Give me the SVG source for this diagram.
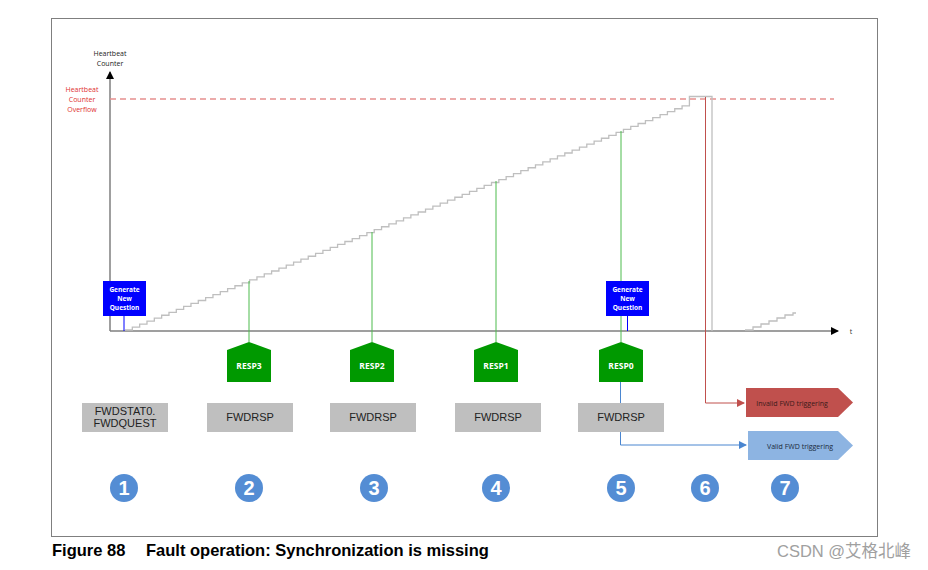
<svg xmlns="http://www.w3.org/2000/svg" width="928" height="570" viewBox="0 0 928 570">
<style>
.sm{font-family:"Open Sans","Liberation Sans",sans-serif;font-size:7px;text-anchor:middle}
.gq{font-family:"Open Sans","Liberation Sans",sans-serif;font-size:6.5px;font-weight:bold;fill:#fff;text-anchor:middle}
.rsp{font-family:"Open Sans","Liberation Sans",sans-serif;font-size:8.5px;font-weight:bold;fill:#fff;text-anchor:middle}
.box{fill:#bfbfbf}
.bt{font-family:"Liberation Sans",Arial,sans-serif;font-size:11px;fill:#222;text-anchor:middle}
.num{fill:#548dd4}
.nt{font-family:"Liberation Sans",Arial,sans-serif;font-size:20px;font-weight:bold;fill:#fff;text-anchor:middle}
.gl{stroke:#4cbb4c;stroke-width:1;fill:none}
.pent{fill:#009900}
.gen{fill:#0000ff}
</style>
<defs>
<marker id="ak" markerWidth="8" markerHeight="8" refX="7" refY="4" orient="auto" markerUnits="userSpaceOnUse"><path d="M0,0 L8,4 L0,8 z" fill="#000"/></marker>
<marker id="ar" markerWidth="8" markerHeight="8" refX="7" refY="4" orient="auto" markerUnits="userSpaceOnUse"><path d="M0,0 L8,4 L0,8 z" fill="#c0504d"/></marker>
<marker id="ab" markerWidth="8" markerHeight="8" refX="7" refY="4" orient="auto" markerUnits="userSpaceOnUse"><path d="M0,0 L8,4 L0,8 z" fill="#4a86d0"/></marker>
</defs>
<rect x="0" y="0" width="928" height="570" fill="#fff"/>
<rect x="51.5" y="18.5" width="826" height="518" fill="none" stroke="#7f7f7f" stroke-width="1"/>

<g id="axes">
<line x1="110" y1="331" x2="110" y2="72" stroke="#7f7f7f" stroke-width="1.5" marker-end="url(#ak)"/>
<line x1="110" y1="331" x2="838" y2="331" stroke="#7f7f7f" stroke-width="1.5" marker-end="url(#ak)"/>
<text x="851" y="334" class="sm" fill="#333">t</text>
<text x="110" y="56" class="sm" fill="#222">Heartbeat</text>
<text x="110" y="66" class="sm" fill="#222">Counter</text>
<text x="82" y="92" class="sm" fill="#e03030">Heartbeat</text>
<text x="82" y="102" class="sm" fill="#e03030">Counter</text>
<text x="82" y="112" class="sm" fill="#e03030">Overflow</text>
<line x1="110" y1="99" x2="834" y2="99" stroke="#e6908f" stroke-width="1.5" stroke-dasharray="6,4"/>
</g>

<g id="staircase" fill="none" stroke="#bfbfbf" stroke-width="1.3">
<path d="M125,330 h7.33v-2.95h7.33v-2.95h7.33v-2.95h7.33v-2.95h7.33v-2.95h7.33v-2.95h7.33v-2.95h7.33v-2.95h7.33v-2.95h7.33v-2.95h7.33v-2.95h7.33v-2.95h7.33v-2.95h7.33v-2.95h7.33v-2.95h7.33v-2.95h7.33v-2.95h7.33v-2.95h7.33v-2.95h7.33v-2.95h7.33v-2.95h7.33v-2.95h7.33v-2.95h7.33v-2.95h7.33v-2.95h7.33v-2.95h7.33v-2.95h7.33v-2.95h7.33v-2.95h7.33v-2.95h7.33v-2.95h7.33v-2.95h7.33v-2.95h7.33v-2.95h7.33v-2.95h7.33v-2.95h7.33v-2.95h7.33v-2.95h7.33v-2.95h7.33v-2.95h7.33v-2.95h7.33v-2.95h7.33v-2.95h7.33v-2.95h7.33v-2.95h7.33v-2.95h7.33v-2.95h7.33v-2.95h7.33v-2.95h7.33v-2.95h7.33v-2.95h7.33v-2.95h7.33v-2.95h7.33v-2.95h7.33v-2.95h7.33v-2.95h7.33v-2.95h7.33v-2.95h7.33v-2.95h7.33v-2.95h7.33v-2.95h7.33v-2.95h7.33v-2.95h7.33v-2.95h7.33v-2.95h7.33v-2.95h7.33v-2.95h7.33v-2.95h7.33v-2.95h7.33v-2.95h7.33v-2.95h7.33v-2.95h7.33v-2.95h7.33v-2.95h7.33v-2.95h7.33v-2.95h7.33v-2.95 V96.5 H712 V331"/>
<path d="M745,330 h8v-3h8v-3h8v-3h8v-3h8v-3h8v-2h3"/>
</g>

<g id="connectors">
<line x1="249" y1="281" x2="249" y2="342" class="gl"/>
<line x1="372" y1="232" x2="372" y2="342" class="gl"/>
<line x1="496" y1="181" x2="496" y2="342" class="gl"/>
<line x1="621" y1="131" x2="621" y2="342" class="gl"/>
<line x1="124" y1="316" x2="124" y2="331" stroke="#0000ff" stroke-width="1"/>
<line x1="627.5" y1="316" x2="627.5" y2="331" stroke="#0000ff" stroke-width="1"/>
<path d="M705.5,97 V403 H744" fill="none" stroke="#c0504d" stroke-width="1" marker-end="url(#ar)"/>
<path d="M620.5,382 V403" fill="none" stroke="#4a86d0" stroke-width="1"/>
<path d="M620.5,432 V445 H746" fill="none" stroke="#4a86d0" stroke-width="1" marker-end="url(#ab)"/>
</g>

<g id="gen1">
<rect x="103" y="281" width="43" height="35" class="gen"/>
<text x="124.5" y="291.5" class="gq">Generate</text>
<text x="124.5" y="300.5" class="gq">New</text>
<text x="124.5" y="310" class="gq">Question</text>
</g>
<g id="gen2">
<rect x="606" y="281" width="43" height="35" class="gen"/>
<text x="627.5" y="291.5" class="gq">Generate</text>
<text x="627.5" y="300.5" class="gq">New</text>
<text x="627.5" y="310" class="gq">Question</text>
</g>

<g id="resp3"><path d="M227,350 L249,342 L271,350 V382 H227 Z" class="pent"/><text x="249" y="369" class="rsp">RESP3</text></g>
<g id="resp2"><path d="M350,350 L372,342 L394,350 V382 H350 Z" class="pent"/><text x="372" y="369" class="rsp">RESP2</text></g>
<g id="resp1"><path d="M474,350 L496,342 L518,350 V382 H474 Z" class="pent"/><text x="496" y="369" class="rsp">RESP1</text></g>
<g id="resp0"><path d="M599,350 L621,342 L643,350 V382 H599 Z" class="pent"/><text x="621" y="369" class="rsp">RESP0</text></g>

<g id="box1"><rect x="82" y="403" width="86" height="29" class="box"/><text x="125" y="414.5" class="bt">FWDSTAT0.</text><text x="125" y="426.5" class="bt">FWDQUEST</text></g>
<g id="box2"><rect x="207" y="403" width="86" height="29" class="box"/><text x="250" y="421" class="bt">FWDRSP</text></g>
<g id="box3"><rect x="330" y="403" width="86" height="29" class="box"/><text x="373" y="421" class="bt">FWDRSP</text></g>
<g id="box4"><rect x="455" y="403" width="86" height="29" class="box"/><text x="498" y="421" class="bt">FWDRSP</text></g>
<g id="box5"><rect x="578" y="403" width="86" height="29" class="box"/><text x="621" y="421" class="bt">FWDRSP</text></g>

<g id="invalid"><path d="M746,388 H838 L853,402.5 L838,417 H746 Z" fill="#c0504d"/><text x="792" y="405.5" class="sm" fill="#3a1a1a">Invalid FWD triggering</text></g>
<g id="valid"><path d="M748,431 H838 L853,445.5 L838,460 H748 Z" fill="#8db4e2"/><text x="800" y="448.5" class="sm" fill="#1a2a3a">Valid FWD triggering</text></g>

<g id="n1"><circle cx="124" cy="488" r="14" class="num"/><text x="124" y="495" class="nt">1</text></g>
<g id="n2"><circle cx="249" cy="488" r="14" class="num"/><text x="249" y="495" class="nt">2</text></g>
<g id="n3"><circle cx="374" cy="488" r="14" class="num"/><text x="374" y="495" class="nt">3</text></g>
<g id="n4"><circle cx="496" cy="488" r="14" class="num"/><text x="496" y="495" class="nt">4</text></g>
<g id="n5"><circle cx="621" cy="488" r="14" class="num"/><text x="621" y="495" class="nt">5</text></g>
<g id="n6"><circle cx="705" cy="488" r="14" class="num"/><text x="705" y="495" class="nt">6</text></g>
<g id="n7"><circle cx="785" cy="488" r="14" class="num"/><text x="785" y="495" class="nt">7</text></g>

<g id="caption" font-family="'Liberation Sans',Arial,sans-serif" font-size="16.5" font-weight="bold" fill="#000">
<text x="52" y="556">Figure 88</text>
<text x="146" y="556">Fault operation: Synchronization is missing</text>
</g>
<text x="777" y="557" font-family="'Liberation Sans','Noto Sans CJK SC',sans-serif" font-size="16.5" fill="#a0a0a0">CSDN @艾格北峰</text>
</svg>
